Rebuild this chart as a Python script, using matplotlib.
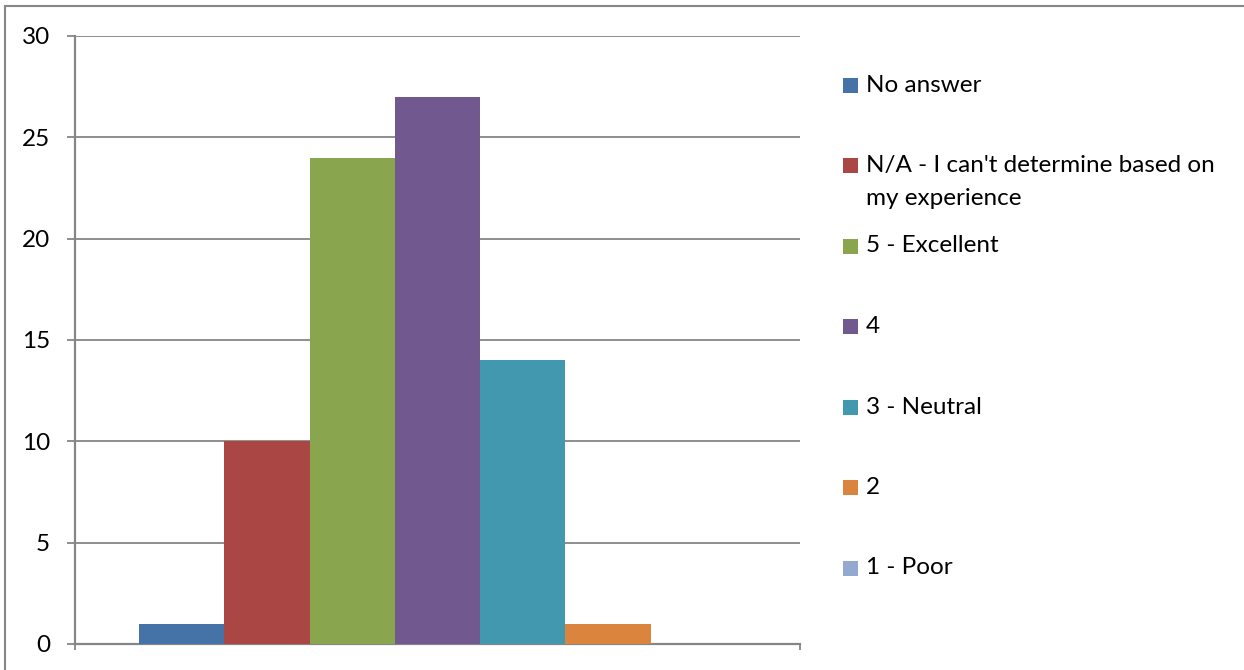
import numpy as np
import matplotlib.pyplot as plt
from matplotlib.lines import Line2D
from matplotlib.patches import Rectangle

plt.rcParams['font.family'] = ['Lato', 'DejaVu Sans']

# данные
categories = ["No answer", "N/A - I can't determine based on\nmy experience", "5 - Excellent",
              "4", "3 - Neutral", "2", "1 - Poor"]
counts = [1, 10, 24, 27, 14, 1, 0]
colors = ['#4572A7', '#AA4643', '#89A54E', '#71588F', '#4198AF', '#DB843D', '#93A9CF']
y_ticks = [0, 5, 10, 15, 20, 25, 30]

W, H = 1244, 670
grey = '#868686'
fs = 17.5

fig = plt.figure(figsize=(W / 100, H / 100), dpi=100)
ax = fig.add_axes([75 / W, (H - 644) / H, (800 - 75) / W, (644 - 36) / H])

# столбцы: одна категория, 7 серий, зазор 150%
x = 0.75 + np.arange(len(counts)) + 0.5
ax.bar(x, counts, width=1.0, color=colors, zorder=3)

ax.set_xlim(0, 8.5)
ax.set_ylim(0, 30)
ax.set_yticks(y_ticks)
ax.set_xticks([0, 8.5])
ax.set_xticklabels([])
ax.yaxis.grid(True, color=grey, linewidth=1.3, zorder=0)

for s in ['top', 'right']:
    ax.spines[s].set_visible(False)
for s in ['left', 'bottom']:
    ax.spines[s].set_color(grey)
    ax.spines[s].set_linewidth(1.6)
ax.tick_params(axis='y', length=6, width=1.3, color=grey, labelsize=fs, pad=12)
ax.tick_params(axis='x', length=4.5, width=1.3, color=grey, direction='out')

# рамка диаграммы (видны только левая и верхняя стороны)
fig.add_artist(Line2D([5 / W, 5 / W], [0, 1 - 6 / H], color=grey, lw=1.5, transform=fig.transFigure))
fig.add_artist(Line2D([5 / W, 1], [1 - 6 / H, 1 - 6 / H], color=grey, lw=1.5, transform=fig.transFigure))

# легенда вручную, шаг одинаковый как в Excel
for i in range(len(categories)):
    yc = 85 + 80.5 * i
    fig.add_artist(Rectangle((843 / W, 1 - (yc + 7.5) / H), 15 / W, 15 / H,
                             facecolor=colors[i], edgecolor='none', transform=fig.transFigure))
    lines = categories[i].split('\n')
    for j in range(len(lines)):
        fig.text(866 / W, 1 - (yc + 33 * j) / H, lines[j], fontsize=fs, va='center', ha='left')

fig.savefig('out.png', dpi=100)
